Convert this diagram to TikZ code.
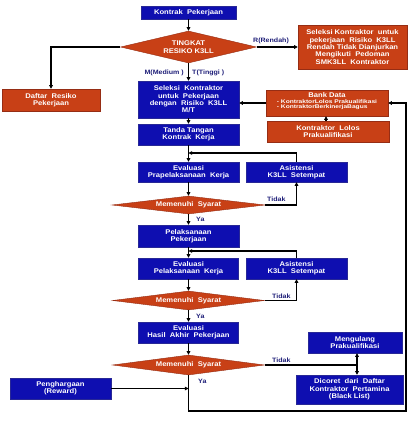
\documentclass[tikz,border=0pt]{standalone}
\usepackage{fontspec}
\setmainfont[FakeStretch=1.12]{Liberation Sans}
\newfontfamily\widefont[FakeStretch=1.25]{Liberation Sans}
\usetikzlibrary{shapes.geometric,arrows.meta}
\definecolor{bbox}{RGB}{14,14,176}
\definecolor{bedge}{RGB}{40,40,150}
\definecolor{obox}{RGB}{200,64,22}
\definecolor{oedge}{RGB}{150,45,20}
\definecolor{lbl}{RGB}{30,30,120}
\tikzset{
  base/.style={inner sep=0pt, align=center, text=white, font=\fontsize{6.8}{7.4}\selectfont\bfseries, line width=0.4pt},
  bluebox/.style={base, rectangle, fill=bbox, draw=bedge},
  redbox/.style={base, rectangle, fill=obox, draw=oedge},
  dia/.style={base, diamond, fill=obox, draw=oedge},
  conn/.style={line width=1.2pt, draw=black},
  arr/.style={conn, -{Triangle[length=3.6pt,width=3.6pt]}},
  darr/.style={conn, {Triangle[length=3.6pt,width=3.6pt]}-{Triangle[length=3.6pt,width=3.6pt]}},
  lab/.style={inner sep=0pt, text=lbl, font=\fontsize{6.3}{7}\selectfont\bfseries},
}
\begin{document}
\begin{tikzpicture}[x=1pt,y=-1pt]
\path[use as bounding box] (0,0) rectangle (411,427);
% main column
\node[bluebox, minimum width=95pt, minimum height=13pt] (kontrak) at (188.5,12.5) {Kontrak\ \ Pekerjaan};
\node[dia, minimum width=136pt, minimum height=32pt, shape aspect=4.25] (tingkat) at (188.5,47) {TINGKAT\\RESIKO K3LL};
\node[redbox, minimum width=109pt, minimum height=44pt] (selR) at (352.5,47) {Seleksi Kontraktor\ \ untuk\\pekerjaan\ \ Risiko\ \ K3LL\\Rendah\ Tidak\ Dianjurkan\\Mengikuti\ \ Pedoman\\SMK3LL\ \ Kontraktor};
\node[redbox, minimum width=98pt, minimum height=22pt] (daftar) at (51,100) {Daftar\ \ Resiko\\Pekerjaan};
\node[bluebox, minimum width=101pt, minimum height=37pt] (seleksi) at (188.5,99.5) {Seleksi\ \ Kontraktor\\untuk\ \ Pekerjaan\\dengan\ \ Risiko\ \ K3LL\\M/T};
\node[bluebox, minimum width=101pt, minimum height=21pt] (tanda) at (188.5,134.5) {Tanda\ Tangan\\Kontrak\ \ Kerja};
\node[redbox, minimum width=122pt, minimum height=26pt] (bank) at (327,103) {};
\node[base, anchor=north] (banktitle) at ([yshift=-2.5pt]bank.north) {Bank Data};
\node[base, anchor=north, align=left, font=\widefont\fontsize{5.3}{5.2}\selectfont\bfseries] (banklist) at ([yshift=-1.5pt]banktitle.south) {- KontraktorLolos Prakualifikasi\\- KontraktorBerkinerjaBagus};
\node[redbox, minimum width=122pt, minimum height=21pt] (lolos) at (328,131.5) {Kontraktor\ \ Lolos\\Prakualifikasi};
\node[bluebox, minimum width=101pt, minimum height=20pt] (evalpra) at (188.5,172) {Evaluasi\\Prapelaksanaan\ \ Kerja};
\node[bluebox, minimum width=101pt, minimum height=20pt] (asis1) at (296.5,172) {Asistensi\\K3LL\ \ Setempat};
\node[dia, minimum width=153pt, minimum height=18pt, shape aspect=8.5] (d1) at (188.5,205) {Memenuhi\ \ Syarat};
\node[bluebox, minimum width=101pt, minimum height=22pt] (pelaks) at (188.5,236) {Pelaksanaan\\Pekerjaan};
\node[bluebox, minimum width=100pt, minimum height=21pt] (evalpel) at (188.5,268.5) {Evaluasi\\Pelaksanaan\ \ Kerja};
\node[bluebox, minimum width=101pt, minimum height=21pt] (asis2) at (296.5,268.5) {Asistensi\\K3LL\ \ Setempat};
\node[dia, minimum width=152pt, minimum height=19pt, shape aspect=8] (d2) at (188.5,300.5) {Memenuhi\ \ Syarat};
\node[bluebox, minimum width=100pt, minimum height=21pt] (evalhasil) at (188.5,332.5) {Evaluasi\\Hasil\ \ Akhir\ \ Pekerjaan};
\node[dia, minimum width=152pt, minimum height=20pt, shape aspect=7.6] (d3) at (188.5,365) {Memenuhi\ \ Syarat};
\node[bluebox, minimum width=94pt, minimum height=21pt] (mengulang) at (355,342.5) {Mengulang\\Prakualifikasi};
\node[bluebox, minimum width=107pt, minimum height=29pt] (dicoret) at (349.5,389.5) {Dicoret\ \ dari\ \ Daftar\\Kontraktor\ \ Pertamina\\(Black List)};
\node[bluebox, minimum width=101pt, minimum height=21pt] (reward) at (60.5,388.5) {Penghargaan\\(Reward)};
% coordinates
\coordinate (j1) at (188.5,153);
\coordinate (j2) at (188.5,251);
\coordinate (t3) at (357,365);
\coordinate (cr) at (406,411);
% connectors
\draw[arr] (kontrak.south) -- (tingkat.north);
\draw[arr] (tingkat.east) -- (selR.west);
\draw[arr] (tingkat.west) -| (daftar.north);
\draw[arr] (tingkat.south) -- (seleksi.north);
\draw[arr] (seleksi.south) -- (tanda.north);
\draw[arr] (bank.west) -- (bank.west -| seleksi.east);
\draw[arr] (lolos.north -| 326,0) -- (bank.south -| 326,0);
\draw[arr] (tanda.south) -- (evalpra.north);
\draw[arr] (asis1.north) |- (j1);
\draw[arr] (evalpra.south) -- (d1.north);
\draw[arr] (d1.east) -| (asis1.south);
\draw[arr] (d1.south) -- (pelaks.north);
\draw[arr] (pelaks.south) -- (evalpel.north);
\draw[arr] (asis2.north) |- (j2);
\draw[arr] (evalpel.south) -- (d2.north);
\draw[arr] (d2.east) -| (asis2.south);
\draw[arr] (d2.south) -- (evalhasil.north);
\draw[arr] (evalhasil.south) -- (d3.north);
\draw[conn] (d3.east) -- (t3);
\draw[darr] (t3 |- mengulang.south) -- (t3 |- dicoret.north);
\draw[arr] (d3.south) -- (d3.south |- cr) -- (cr) |- (bank.east);
\draw[arr] (reward.east) -- (reward.east -| d3.south);
% labels
\node[lab, anchor=south west] (lR) at (253,44.5) {R(Rendah)};
\node[lab, anchor=east] (lM) at (184,73) {M(Medium )};
\node[lab, anchor=west] (lT) at (192,73) {T(Tinggi )};
\node[lab, anchor=west] (lt1) at (267,199.5) {Tidak};
\node[lab, anchor=west] (ly1) at (196,219) {Ya};
\node[lab, anchor=west] (lt2) at (272,296.5) {Tidak};
\node[lab, anchor=west] (ly2) at (196,316) {Ya};
\node[lab, anchor=west] (lt3) at (272,360.5) {Tidak};
\node[lab, anchor=west] (ly3) at (198,381) {Ya};
\end{tikzpicture}
\end{document}
